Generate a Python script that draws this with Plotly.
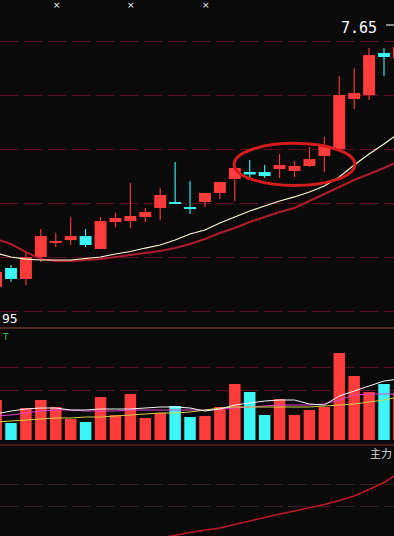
import plotly.graph_objects as go

# ---------------- data ----------------
idx = list(range(28))
opens  = [5.222, 5.398, 5.296, 5.500, 5.630, 5.657, 5.694, 5.574, 5.824, 5.833,
          5.870, 5.954, 6.009, 5.963, 6.009, 6.093, 6.222, 6.287, 6.287, 6.315,
          6.296, 6.343, 6.435, 6.500, 6.963, 7.000, 7.389, 7.343]
closes = [5.361, 5.296, 5.500, 5.694, 5.648, 5.694, 5.611, 5.833, 5.861, 5.880,
          5.917, 6.074, 5.991, 5.944, 6.093, 6.194, 6.324, 6.264, 6.250, 6.352,
          6.343, 6.407, 6.528, 7.000, 7.019, 7.370, 7.352, 7.444]
highs  = [5.380, 5.426, 5.546, 5.759, 5.722, 5.870, 5.759, 5.870, 5.907, 6.185,
          5.954, 6.139, 6.380, 6.204, 6.093, 6.194, 6.324, 6.398, 6.352, 6.454,
          6.389, 6.519, 6.611, 7.176, 7.250, 7.435, 7.435, 7.650]
lows   = [5.194, 5.268, 5.241, 5.454, 5.593, 5.611, 5.593, 5.574, 5.778, 5.769,
          5.824, 5.843, 5.991, 5.898, 5.963, 6.037, 6.019, 6.241, 6.231, 6.231,
          6.241, 6.333, 6.287, 6.500, 6.870, 6.954, 7.176, 7.300]
ma_short = [5.537, 5.500, 5.481, 5.472, 5.472, 5.472, 5.486, 5.500, 5.528, 5.551,
            5.583, 5.611, 5.657, 5.713, 5.750, 5.815, 5.870, 5.926, 5.972, 6.019,
            6.056, 6.102, 6.157, 6.241, 6.352, 6.454, 6.546, 6.648]
ma_long  = [5.667, 5.620, 5.546, 5.481, 5.463, 5.463, 5.472, 5.481, 5.500, 5.519,
            5.537, 5.556, 5.583, 5.620, 5.667, 5.722, 5.769, 5.824, 5.870, 5.917,
            5.954, 6.019, 6.083, 6.148, 6.213, 6.269, 6.324, 6.389]
volumes  = [4.0, 1.7, 3.2, 4.0, 3.3, 2.1, 1.8, 4.3, 2.5, 4.6,
            2.2, 2.7, 3.4, 2.3, 2.4, 3.3, 5.6, 4.8, 2.5, 4.1,
            2.5, 3.0, 3.3, 8.7, 6.4, 4.8, 5.6, 4.7]
vol_ma_a = [2.6, 2.9, 3.1, 3.2, 3.2, 3.0, 3.0, 3.1, 3.1, 3.1,
            3.2, 3.3, 3.3, 3.2, 2.9, 3.1, 3.5, 3.7, 3.9, 4.0,
            4.0, 3.6, 3.5, 4.4, 4.9, 5.4, 5.9, 6.1]
vol_ma_b = [1.8, 1.9, 2.0, 2.1, 2.2, 2.2, 2.3, 2.3, 2.4, 2.5,
            2.6, 2.7, 2.7, 2.8, 3.0, 3.2, 3.3, 3.3, 3.3, 3.3,
            3.3, 3.3, 3.4, 3.5, 3.6, 3.8, 4.0, 4.3]
vol_ma_c = [2.4, 2.5, 2.7, 2.9, 3.0, 3.0, 2.9, 2.9, 2.9, 3.0,
            3.0, 3.0, 3.0, 3.0, 3.0, 3.1, 3.2, 3.3, 3.4, 3.5,
            3.5, 3.5, 3.6, 4.0, 4.5, 4.6, 4.6, 4.6]
main_force = [-3.0, -2.7, -2.4, -2.1, -1.9, -1.6, -1.4, -1.2, -0.9, -0.7,
              -0.5, -0.2, 0.1, 0.35, 0.6, 0.8, 1.15, 1.5, 1.9, 2.2,
              2.5, 2.8, 3.15, 3.55, 4.0, 4.65, 5.35, 6.3]
price_label_high = "7.65"
price_label_low = "95"
panel_label = "主力"
highlight_range = (16, 24)

# ---------------- styling ----------------
W, H = 394, 536
BG = "#0a0a0a"
UP = "#ff3c3c"
DOWN = "#3cf5f5"
colors = [UP if c >= o else DOWN for o, c in zip(opens, closes)]

def px(x):
    return x / W

def py(y):
    return 1 - y / H

fig = go.Figure()

# wicks
fig.add_trace(go.Bar(x=idx, base=lows, y=[h - l for h, l in zip(highs, lows)],
                     width=0.075, marker=dict(color=colors, line=dict(width=0)),
                     yaxis="y", hoverinfo="skip"))
# bodies
fig.add_trace(go.Bar(x=idx, base=[min(o, c) for o, c in zip(opens, closes)],
                     y=[max(abs(c - o), 0.017) for o, c in zip(opens, closes)],
                     width=0.8, marker=dict(color=colors, line=dict(width=0)),
                     yaxis="y", hoverinfo="skip"))
# moving averages
fig.add_trace(go.Scatter(x=idx, y=ma_long, mode="lines",
                         line=dict(color="#b01c2c", width=2), yaxis="y"))
fig.add_trace(go.Scatter(x=idx, y=ma_short, mode="lines",
                         line=dict(color="#fff8d0", width=1.2), yaxis="y"))

# volume
fig.add_trace(go.Bar(x=idx, y=volumes, width=0.77,
                     marker=dict(color=colors, line=dict(width=0)),
                     yaxis="y2", hoverinfo="skip"))
fig.add_trace(go.Scatter(x=idx, y=vol_ma_c, mode="lines",
                         line=dict(color="#e040d0", width=1), yaxis="y2"))
fig.add_trace(go.Scatter(x=idx, y=vol_ma_b, mode="lines",
                         line=dict(color="#d0d040", width=1), yaxis="y2"))
fig.add_trace(go.Scatter(x=idx, y=vol_ma_a, mode="lines",
                         line=dict(color="#f4f4f4", width=1), yaxis="y2"))

# indicator
fig.add_trace(go.Scatter(x=idx, y=main_force, mode="lines",
                         line=dict(color="#c01828", width=1.6), yaxis="y3"))

# highlight ellipse around consolidation candles
hs, he = highlight_range
xc = (hs + he) / 2
seg = closes[hs + 1:he - 1]
yc = sum(seg) / len(seg)
rx, ry = 4.05, 0.195

grid_main = "#5e1020"
shapes = [
    dict(type="circle", xref="x", yref="y", x0=xc - rx, x1=xc + rx,
         y0=yc - ry, y1=yc + ry, line=dict(color="#d41c1c", width=3), layer="above"),
    dict(type="line", xref="paper", yref="paper", x0=0, x1=1, y0=py(328), y1=py(328),
         line=dict(color="#96502a", width=1), layer="below"),
    dict(type="line", xref="paper", yref="paper", x0=0, x1=1, y0=py(445), y1=py(445),
         line=dict(color="#8a2020", width=1), layer="below"),
    dict(type="line", xref="paper", yref="paper", x0=px(386), x1=px(394), y0=py(25), y1=py(25),
         line=dict(color="#ffffff", width=1), layer="above"),
]

annotations = [
    dict(text=price_label_high, xref="paper", yref="paper", x=px(339), y=py(28),
         xanchor="left", yanchor="middle", showarrow=False,
         font=dict(family="DejaVu Sans Mono", size=15, color="#ffffff")),
    dict(text=price_label_low, xref="paper", yref="paper", x=px(0), y=py(318),
         xanchor="left", yanchor="middle", showarrow=False,
         font=dict(family="DejaVu Sans Mono", size=13, color="#ffffff")),
    dict(text="T", xref="paper", yref="paper", x=px(0), y=py(337),
         xanchor="left", yanchor="middle", showarrow=False,
         font=dict(family="DejaVu Sans", size=9, color="#30c060")),
    dict(text=panel_label, xref="paper", yref="paper", x=px(394), y=py(453),
         xanchor="right", yanchor="middle", showarrow=False,
         font=dict(family="Noto Sans CJK SC", size=11, color="#d8d8d8")),
]
for mx in (57, 131, 206):
    annotations.append(dict(text="×", xref="paper", yref="paper", x=px(mx), y=py(5),
                            xanchor="center", yanchor="middle", showarrow=False,
                            font=dict(family="DejaVu Sans", size=9, color="#ffffff")))

fig.update_layout(
    width=W, height=H, margin=dict(l=0, r=0, t=0, b=0),
    paper_bgcolor=BG, plot_bgcolor=BG, showlegend=False,
    barmode="overlay", hovermode=False,
    xaxis=dict(range=[0.2627, 26.67], domain=[0, 1], showgrid=False, zeroline=False,
               showticklabels=False, showline=False, ticks=""),
    yaxis=dict(domain=[py(328), 1], range=[4.8426, 7.8796], tickmode="linear",
               tick0=5.0, dtick=0.5, showgrid=True, gridcolor=grid_main,
               griddash="19px,5px", gridwidth=1, zeroline=False,
               showticklabels=False, ticks=""),
    yaxis2=dict(domain=[py(440), py(328)], range=[0, 11.2], anchor="x",
                tickmode="array", tickvals=[5.0, 7.3], showgrid=True,
                gridcolor=grid_main, griddash="19px,5px", zeroline=False,
                showticklabels=False, ticks=""),
    yaxis3=dict(domain=[0, py(445)], range=[0, 9.1], anchor="x",
                tickmode="array", tickvals=[3.0, 5.2], showgrid=True,
                gridcolor="#3a1e22", griddash="19px,5px", zeroline=False,
                showticklabels=False, ticks=""),
    shapes=shapes, annotations=annotations,
)

fig.write_html("out.html", config={"displayModeBar": False, "staticPlot": True},
               post_script="document.body.style.margin='0';document.body.style.overflow='hidden';document.body.style.background='#0a0a0a';")
